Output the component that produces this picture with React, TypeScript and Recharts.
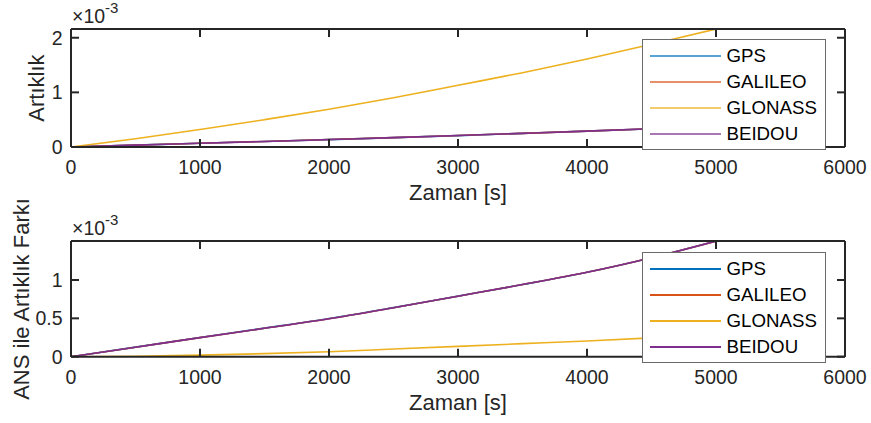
import React from 'react';
import { LineChart, Line, XAxis, YAxis, Legend } from 'recharts';

// time axis (s)
const times = [0, 500, 1000, 1500, 2000, 2500, 3000, 3500, 4000, 4500, 5000];

// Top subplot: Artıklık (×10^-3)
const topGPS = [0, 0.034, 0.069, 0.101, 0.135, 0.171, 0.209, 0.249, 0.290, 0.334, 0.381];
const topGALILEO = [0, 0.035, 0.070, 0.102, 0.136, 0.172, 0.211, 0.250, 0.291, 0.335, 0.382];
const topGLONASS = [0, 0.15, 0.32, 0.50, 0.69, 0.90, 1.13, 1.36, 1.61, 1.88, 2.16];
const topBEIDOU = [0, 0.035, 0.070, 0.101, 0.136, 0.171, 0.210, 0.250, 0.291, 0.335, 0.382];

// Bottom subplot: ANS ile Artıklık Farkı (×10^-3)
const botGPS = [0, 0.125, 0.25, 0.372, 0.497, 0.64, 0.79, 0.94, 1.10, 1.29, 1.507];
const botGALILEO = [0, 0.124, 0.249, 0.370, 0.495, 0.639, 0.789, 0.94, 1.10, 1.29, 1.506];
const botGLONASS = [0, 0.006, 0.02, 0.04, 0.065, 0.10, 0.135, 0.17, 0.205, 0.245, 0.29];
const botBEIDOU = [0, 0.124, 0.249, 0.370, 0.495, 0.639, 0.789, 0.94, 1.10, 1.29, 1.506];

const xTicks = [0, 1000, 2000, 3000, 4000, 5000, 6000];
const topYTicks = [0, 1, 2];
const botYTicks = [0, 0.5, 1];
const topYMax = 2.16;
const botYMax = 1.508;

const seriesNames = ['GPS', 'GALILEO', 'GLONASS', 'BEIDOU'];
const seriesColors = ['#0072BD', '#D95319', '#EDB120', '#7E2F8E'];

const FONT = '"Liberation Sans", Arial, Helvetica, sans-serif';
const AXIS = '#262626';
const TICK_LEN = 8;
const TICK_FONT = 19.5;

const topData = times.map((t, i) => ({
  t,
  GPS: topGPS[i],
  GALILEO: topGALILEO[i],
  GLONASS: topGLONASS[i],
  BEIDOU: topBEIDOU[i],
}));
const botData = times.map((t, i) => ({
  t,
  GPS: botGPS[i],
  GALILEO: botGALILEO[i],
  GLONASS: botGLONASS[i],
  BEIDOU: botBEIDOU[i],
}));

const LegendBox = ({ faded }: { faded: boolean }) => (
  <div
    style={{
      width: 184,
      height: 111,
      boxSizing: 'border-box',
      border: '1px solid #6a6a6a',
      background: '#ffffff',
      paddingTop: 3,
      fontFamily: FONT,
      fontSize: 18.7,
      color: '#000',
    }}
  >
    {seriesNames.map((n, i) => (
      <div key={n} style={{ height: 26, display: 'flex', alignItems: 'center' }}>
        <svg width={84} height={26} style={{ display: 'block' }}>
          <line x1={7} x2={78} y1={13} y2={13} stroke={seriesColors[i]} strokeWidth={1.8} opacity={faded ? 0.65 : 1} />
        </svg>
        <span style={{ lineHeight: '26px', whiteSpace: 'nowrap' }}>{n}</span>
      </div>
    ))}
  </div>
);

const BottomTick = (props: any) => {
  const { x, y, payload } = props;
  return (
    <g>
      <line x1={x} x2={x} y1={y} y2={y - TICK_LEN} stroke={AXIS} strokeWidth={2} />
      <text x={x} y={y + 27} textAnchor="middle" fill={AXIS} fontSize={TICK_FONT} fontFamily={FONT}>
        {String(payload.value)}
      </text>
    </g>
  );
};

const TopTick = (props: any) => {
  const { x, y } = props;
  return <line x1={x} x2={x} y1={y} y2={y + TICK_LEN} stroke={AXIS} strokeWidth={2} />;
};

const LeftTick = (props: any) => {
  const { x, y, payload } = props;
  return (
    <g>
      <line x1={x} x2={x + TICK_LEN} y1={y} y2={y} stroke={AXIS} strokeWidth={2} />
      <text x={x - 8.5} y={y + 7} textAnchor="end" fill={AXIS} fontSize={TICK_FONT} fontFamily={FONT}>
        {String(payload.value)}
      </text>
    </g>
  );
};

const RightTick = (props: any) => {
  const { x, y } = props;
  return <line x1={x} x2={x - TICK_LEN} y1={y} y2={y} stroke={AXIS} strokeWidth={2} />;
};

function Panel({
  data,
  yMax,
  yTicks,
  height,
  marginTop,
  marginBottom,
  legendTop,
  faded,
}: {
  data: any[];
  yMax: number;
  yTicks: number[];
  height: number;
  marginTop: number;
  marginBottom: number;
  legendTop: number;
  faded: boolean;
}) {
  return (
    <LineChart
      width={871}
      height={height}
      data={data}
      margin={{ top: marginTop, right: 25, bottom: marginBottom, left: 21 }}
    >
      <XAxis
        xAxisId="b"
        dataKey="t"
        type="number"
        domain={[0, 6000]}
        ticks={xTicks}
        interval={0}
        allowDataOverflow
        height={30}
        tickSize={0}
        tickMargin={0}
        tickLine={false}
        axisLine={{ stroke: AXIS, strokeWidth: 2 }}
        tick={<BottomTick />}
      />
      <XAxis
        xAxisId="top"
        orientation="top"
        dataKey="t"
        type="number"
        domain={[0, 6000]}
        ticks={xTicks}
        interval={0}
        allowDataOverflow
        height={1}
        tickSize={0}
        tickMargin={0}
        tickLine={false}
        axisLine={{ stroke: AXIS, strokeWidth: 2 }}
        tick={<TopTick />}
      />
      <YAxis
        yAxisId="l"
        type="number"
        domain={[0, yMax]}
        ticks={yTicks}
        interval={0}
        allowDataOverflow
        width={50}
        tickSize={0}
        tickMargin={0}
        tickLine={false}
        axisLine={{ stroke: AXIS, strokeWidth: 2 }}
        tick={<LeftTick />}
      />
      <YAxis
        yAxisId="r"
        orientation="right"
        type="number"
        domain={[0, yMax]}
        ticks={yTicks}
        interval={0}
        allowDataOverflow
        width={1}
        tickSize={0}
        tickMargin={0}
        tickLine={false}
        axisLine={{ stroke: AXIS, strokeWidth: 2 }}
        tick={<RightTick />}
      />
      {seriesNames.map((n, i) => (
        <Line
          key={n}
          xAxisId="b"
          yAxisId="l"
          dataKey={n}
          type="monotone"
          stroke={seriesColors[i]}
          strokeWidth={1.6}
          dot={false}
          isAnimationActive={false}
        />
      ))}
      <Legend
        layout="horizontal"
        verticalAlign="middle"
        align="center"
        wrapperStyle={{ left: 641.5, top: legendTop, width: 184 }}
        content={() => <LegendBox faded={faded} />}
      />
    </LineChart>
  );
}

export default function App() {
  return (
    <div style={{ position: 'absolute', left: 0, top: 0, width: 871, height: 423, background: '#fff' }}>
      <div style={{ position: 'absolute', left: 0, top: 0 }}>
        <Panel
          data={topData}
          yMax={topYMax}
          yTicks={topYTicks}
          height={205}
          marginTop={28}
          marginBottom={28}
          legendTop={39.3}
          faded={true}
        />
      </div>
      <div style={{ position: 'absolute', left: 0, top: 210 }}>
        <Panel
          data={botData}
          yMax={botYMax}
          yTicks={botYTicks}
          height={213}
          marginTop={30}
          marginBottom={36.3}
          legendTop={42}
          faded={false}
        />
      </div>
      <svg
        width={871}
        height={423}
        style={{ position: 'absolute', left: 0, top: 0, pointerEvents: 'none' }}
        fontFamily={FONT}
        fill={AXIS}
      >
        <text x={72} y={23} fontSize={19.5}>
          <tspan>×10</tspan>
          <tspan dy={-10} fontSize={15}>-3</tspan>
        </text>
        <text x={72} y={235} fontSize={19.5}>
          <tspan>×10</tspan>
          <tspan dy={-10} fontSize={15}>-3</tspan>
        </text>
        <text x={44} y={88} fontSize={22} textAnchor="middle" transform="rotate(-90 44 88)">
          Artıklık
        </text>
        <text x={28.5} y={299} fontSize={22} textAnchor="middle" transform="rotate(-90 28.5 299)">
          ANS ile Artıklık Farkı
        </text>
        <text x={458} y={200} fontSize={22} textAnchor="middle">
          Zaman [s]
        </text>
        <text x={458} y={410} fontSize={22} textAnchor="middle">
          Zaman [s]
        </text>
      </svg>
    </div>
  );
}
